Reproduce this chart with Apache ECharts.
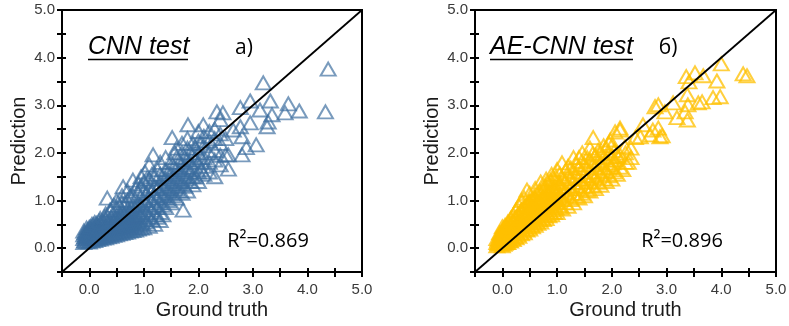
<!DOCTYPE html>
<html><head><meta charset="utf-8">
<script src="https://cdn.jsdelivr.net/npm/echarts@6/dist/echarts.min.js"></script>
<style>html,body{margin:0;padding:0;background:#fff}#c{width:789px;height:326px}</style>
</head><body><div id="c"></div>
<script>
// ---- data ----
const axisRange = [-0.5, 5.0];
const tickStep = 0.5;
const diagLine = [[-0.5, -0.5], [5.0, 5.0]];
const panelTitles = ['CNN test', 'AE-CNN test'];
const panelLetters = ['a)', 'б)'];
const r2Labels = ['R²=0.869', 'R²=0.896'];
const xAxisName = 'Ground truth';
const yAxisName = 'Prediction';

const cnnPoints = [
[-0.1,0.12],[-0.1,0.2],[-0.1,0.28],[-0.1,0.36],
[-0.05,0.14],[-0.05,0.24],[-0.05,0.33],[-0.05,0.42],
[0,0.13],[0,0.2],[0,0.27],[0,0.35],[0,0.44],
[0.05,0.15],[0.05,0.23],[0.05,0.31],[0.05,0.4],[0.05,0.5],
[0.1,0.16],[0.1,0.25],[0.1,0.34],[0.1,0.44],[0.1,0.54],
[0.15,0.18],[0.15,0.27],[0.15,0.37],[0.15,0.48],
[0.2,0.19],[0.2,0.29],[0.2,0.4],[0.2,0.52],[0.2,0.62],
[0.25,0.21],[0.25,0.32],[0.25,0.44],[0.25,0.56],
[0.3,0.22],[0.3,0.33],[0.3,0.46],[0.3,0.6],[0.3,0.72],
[0.35,0.24],[0.35,0.36],[0.35,0.5],
[0.4,0.25],[0.4,0.37],[0.4,0.5],[0.4,0.64],[0.4,0.8],
[0.45,0.27],[0.45,0.4],[0.45,0.55],
[0.5,0.28],[0.5,0.4],[0.5,0.53],[0.5,0.68],[0.5,0.85],
[0.55,0.3],[0.55,0.44],[0.55,0.6],
[0.6,0.31],[0.6,0.45],[0.6,0.6],[0.6,0.76],[0.6,0.95],
[0.65,0.33],[0.65,0.48],
[0.7,0.34],[0.7,0.48],[0.7,0.65],[0.7,0.82],[0.7,1.0],[0.7,1.2],
[0.75,0.36],[0.75,0.52],
[0.8,0.37],[0.8,0.52],[0.8,0.7],[0.8,0.9],[0.8,1.1],[0.8,1.43],
[0.85,0.38],[0.85,0.55],
[0.9,0.4],[0.9,0.57],[0.9,0.75],[0.9,0.95],[0.9,1.15],[0.9,1.35],
[0.95,0.42],[0.95,1.5],
[1.0,0.43],[1.0,0.6],[1.0,0.8],[1.0,1.0],[1.0,1.2],[1.0,1.4],[1.02,1.6],
[1.1,0.46],[1.1,0.65],[1.1,0.85],[1.1,1.05],[1.1,1.25],[1.1,1.45],[1.1,1.75],
[1.17,1.96],
[1.2,0.5],[1.2,0.7],[1.2,0.9],[1.2,1.1],[1.2,1.3],[1.2,1.5],
[1.3,0.58],[1.3,0.75],[1.3,0.95],[1.3,1.15],[1.3,1.35],[1.3,1.55],[1.3,1.8],
[0.33,1.05],[0.38,0.8],[0.62,1.29],[0.5,1.0],
[1.4,0.85],[1.4,1.05],[1.4,1.25],[1.4,1.45],[1.4,1.65],[1.4,1.9],
[1.5,0.95],[1.5,1.15],[1.5,1.35],[1.5,1.55],[1.5,1.8],[1.52,2.32],
[1.57,2.0],
[1.6,1.05],[1.6,1.25],[1.6,1.45],[1.6,1.65],[1.6,1.9],[1.6,2.1],
[1.7,1.15],[1.7,1.35],[1.7,1.55],[1.7,1.75],[1.7,2.0],[1.7,2.2],[1.72,0.8],
[1.8,1.2],[1.8,1.45],[1.8,1.65],[1.8,1.85],[1.8,2.1],[1.8,2.3],[1.81,2.59],
[1.9,1.33],[1.9,1.5],[1.9,1.7],[1.9,1.95],[1.9,2.2],
[2.0,1.4],[2.0,1.6],[2.0,1.8],[2.0,2.0],[2.0,2.25],[2.0,2.45],
[2.09,2.59],[2.1,1.55],[2.1,1.72],[2.1,1.9],[2.1,2.15],[2.1,2.35],
[2.2,1.6],[2.2,1.8],[2.2,2.0],[2.2,2.25],[2.2,2.45],
[2.3,1.5],[2.3,1.85],[2.3,2.05],[2.3,2.3],[2.3,2.5],
[2.4,1.75],[2.4,1.95],[2.4,2.2],[2.4,2.4],[2.4,2.7],
[2.5,1.96],[2.5,2.3],[2.55,1.66],[2.55,1.96],
[2.34,2.86],[2.45,2.84],[2.64,2.48],[2.77,2.55],[2.8,2.34],[2.77,2.95],
[2.95,3.09],[2.95,2.63],[2.8,1.96],[2.88,2.11],[3.06,2.17],
[3.13,2.9],[3.19,3.47],[3.26,2.55],[3.28,2.65],[3.32,3.09],[3.35,2.8],
[3.59,2.84],[3.65,3.03],[3.85,2.88],[4.33,2.86],[4.38,3.76]
];
const cnnDensePoints = [
[-0.08,0.16],[-0.08,0.24],[-0.08,0.32],[-0.02,0.17],[-0.02,0.24],[-0.02,0.31],[-0.02,0.39],
[0.03,0.19],[0.03,0.27],[0.03,0.36],[0.03,0.45],[0.08,0.2],[0.08,0.29],[0.08,0.39],[0.08,0.49],
[0.13,0.22],[0.13,0.32],[0.13,0.42],[0.13,0.52],[0.18,0.23],[0.18,0.34],[0.18,0.45],[0.18,0.57],
[0.23,0.26],[0.23,0.38],[0.23,0.5],[0.28,0.27],[0.28,0.4],[0.28,0.53],[0.28,0.66],
[0.33,0.29],[0.33,0.42],[0.33,0.56],[0.38,0.31],[0.38,0.44],[0.38,0.58],
[0.43,0.32],[0.43,0.46],[0.43,0.6],[0.48,0.34],[0.48,0.47],[0.48,0.62],
[0.53,0.35],[0.53,0.5],[0.53,0.66],[0.58,0.37],[0.58,0.52],[0.58,0.7],
[0.63,0.39],[0.63,0.55],[0.63,0.72],[0.68,0.41],[0.68,0.58],[0.68,0.75],
[0.73,0.42],[0.73,0.6],[0.73,0.78],[0.78,0.44],[0.78,0.62],[0.78,0.82],
[0.83,0.46],[0.83,0.65],[0.83,0.85],[0.88,0.48],[0.88,0.67],[0.88,0.88],
[0.93,0.5],[0.93,0.7],[0.93,0.9],[0.98,0.52],[0.98,0.72],[0.98,0.92],
[1.05,0.55],[1.05,0.75],[1.05,0.95],[1.05,1.15],[1.15,0.6],[1.15,0.8],[1.15,1.0],[1.15,1.2],
[1.25,0.65],[1.25,0.85],[1.25,1.05],[1.25,1.25],[1.35,0.7],[1.35,0.9],[1.35,1.1],[1.35,1.3],[1.35,1.5],
[1.45,1.0],[1.45,1.2],[1.45,1.4],[1.45,1.6],[1.55,1.1],[1.55,1.3],[1.55,1.5],[1.55,1.7],
[1.65,1.2],[1.65,1.4],[1.65,1.6],[1.65,1.8],[1.75,1.3],[1.75,1.5],[1.75,1.7],[1.75,1.9],
[1.85,1.4],[1.85,1.6],[1.85,1.8],[1.85,2.0],[1.95,1.5],[1.95,1.85],[1.95,2.1],[2.05,1.65],[2.05,1.9],[2.05,2.2],
[0.55,0.9],[0.65,0.95],[0.75,1.1],[0.85,1.25],[0.95,1.3],[1.05,1.45],[1.15,1.55],[1.25,1.65],[0.45,0.9],[0.6,1.1]
];

const aeCnnPoints = [
[-0.1,0.05],[-0.1,0.12],[-0.1,0.2],
[-0.05,0.08],[-0.05,0.15],[-0.05,0.25],[-0.05,0.32],
[0,0.05],[0,0.12],[0,0.2],[0,0.28],[0,0.36],[0,0.45],
[0.05,0.1],[0.05,0.18],[0.05,0.27],[0.05,0.36],[0.05,0.48],
[0.1,0.12],[0.1,0.2],[0.1,0.3],[0.1,0.42],[0.1,0.55],
[0.15,0.15],[0.15,0.25],[0.15,0.35],[0.15,0.48],[0.15,0.62],
[0.2,0.18],[0.2,0.3],[0.2,0.42],[0.2,0.55],[0.2,0.7],
[0.25,0.22],[0.25,0.35],[0.25,0.5],[0.25,0.65],[0.25,0.8],
[0.3,0.25],[0.3,0.4],[0.3,0.55],[0.3,0.72],[0.3,0.9],
[0.35,0.3],[0.35,0.45],[0.35,0.62],[0.35,0.8],[0.35,1.0],
[0.4,0.32],[0.4,0.5],[0.4,0.68],[0.4,0.85],[0.4,1.05],
[0.45,0.38],[0.45,0.55],[0.45,0.72],[0.45,0.92],[0.45,1.22],
[0.5,0.4],[0.5,0.58],[0.5,0.78],[0.5,0.98],[0.5,1.15],
[0.55,0.45],[0.55,0.65],[0.55,0.88],
[0.6,0.48],[0.6,0.65],[0.6,0.85],[0.6,1.05],[0.6,1.25],
[0.65,0.52],[0.65,0.75],[0.65,0.98],
[0.7,0.55],[0.7,0.72],[0.7,0.92],[0.7,1.12],[0.7,1.39],
[0.75,0.6],[0.75,0.82],[0.75,1.05],
[0.8,0.62],[0.8,0.8],[0.8,1.0],[0.8,1.2],[0.8,1.45],
[0.85,0.68],[0.85,0.9],[0.85,1.12],
[0.9,0.7],[0.9,0.88],[0.9,1.08],[0.9,1.3],[0.9,1.55],
[0.95,0.75],[0.95,0.98],[0.95,1.2],
[1.0,0.75],[1.0,0.95],[1.0,1.15],[1.0,1.38],[1.0,1.65],
[1.05,0.85],[1.05,1.05],[1.05,1.28],
[1.1,0.82],[1.1,1.02],[1.1,1.22],[1.1,1.45],[1.09,1.79],
[1.2,0.88],[1.2,1.1],[1.2,1.3],[1.2,1.5],[1.2,1.72],
[1.3,0.95],[1.3,1.15],[1.3,1.38],[1.3,1.6],[1.3,1.9],
[1.4,1.05],[1.4,1.25],[1.4,1.45],[1.4,1.68],[1.4,1.9],
[1.46,2.0],
[1.5,1.1],[1.5,1.3],[1.5,1.52],[1.5,1.75],
[1.6,1.2],[1.6,1.4],[1.6,1.6],[1.6,1.85],[1.6,2.1],
[1.66,2.32],
[1.7,1.25],[1.7,1.48],[1.7,1.7],[1.7,1.95],
[1.8,1.32],[1.8,1.55],[1.8,1.78],[1.8,2.0],
[1.9,1.4],[1.9,1.62],[1.9,1.85],[1.9,2.1],[1.97,2.27],
[2.0,1.45],[2.0,1.7],[2.0,1.92],[2.0,2.15],
[2.02,1.79],[2.06,2.44],[2.11,1.92],[2.15,2.48],[2.15,2.52],
[2.1,1.55],[2.2,1.65],[2.24,2.13],[2.3,1.8],
[2.43,2.32],[2.52,2.34],[2.57,2.59],[2.7,2.38],[2.75,2.48],
[2.79,2.97],[2.85,3.01],[2.85,2.52],[2.88,2.34],[2.92,2.36],[2.97,2.86],
[3.12,3.05],[3.19,2.74],[3.34,2.86],[3.38,2.69],[3.38,3.22],[3.39,3.01],
[3.36,3.6],[3.41,3.49],[3.52,3.68],[3.58,3.05],[3.65,3.07],[3.67,3.62],
[3.85,3.16],[3.92,3.51],[3.98,3.18],[4.0,3.87],[4.4,3.66],[4.47,3.62]
];
const aeCnnDensePoints = [
[-0.08,0.1],[-0.08,0.17],[-0.03,0.1],[-0.03,0.2],[-0.03,0.3],
[0.03,0.08],[0.03,0.16],[0.03,0.24],[0.03,0.33],[0.03,0.42],
[0.08,0.12],[0.08,0.22],[0.08,0.32],[0.08,0.44],
[0.13,0.16],[0.13,0.27],[0.13,0.38],[0.13,0.5],
[0.18,0.2],[0.18,0.32],[0.18,0.45],[0.18,0.58],
[0.23,0.24],[0.23,0.37],[0.23,0.5],[0.23,0.63],
[0.28,0.28],[0.28,0.42],[0.28,0.56],[0.28,0.7],
[0.33,0.32],[0.33,0.47],[0.33,0.62],[0.33,0.77],
[0.38,0.36],[0.38,0.52],[0.38,0.68],[0.38,0.84],
[0.43,0.4],[0.43,0.57],[0.43,0.74],[0.43,0.9],
[0.48,0.44],[0.48,0.62],[0.48,0.8],[0.48,0.96],
[0.53,0.48],[0.53,0.67],[0.53,0.86],[0.53,1.02],
[0.58,0.52],[0.58,0.72],[0.58,0.92],[0.58,1.08],
[0.63,0.56],[0.63,0.76],[0.63,0.96],[0.63,1.14],
[0.68,0.6],[0.68,0.8],[0.68,1.0],[0.68,1.2],
[0.73,0.64],[0.73,0.85],[0.73,1.05],[0.73,1.25],
[0.78,0.68],[0.78,0.9],[0.78,1.1],[0.78,1.3],
[0.83,0.72],[0.83,0.94],[0.83,1.15],[0.83,1.36],
[0.88,0.76],[0.88,0.98],[0.88,1.2],[0.88,1.42],
[0.93,0.8],[0.93,1.02],[0.93,1.25],[0.93,1.46],
[0.98,0.84],[0.98,1.06],[0.98,1.28],[0.98,1.5],
[1.05,0.9],[1.05,1.12],[1.05,1.35],[1.05,1.56],
[1.15,0.95],[1.15,1.18],[1.15,1.4],[1.15,1.62],
[1.25,1.02],[1.25,1.25],[1.25,1.46],[1.25,1.68],
[1.35,1.08],[1.35,1.3],[1.35,1.52],[1.35,1.75],
[1.45,1.15],[1.45,1.38],[1.45,1.6],[1.45,1.82],
[1.55,1.22],[1.55,1.45],[1.55,1.68],[1.55,1.9],
[1.65,1.3],[1.65,1.52],[1.65,1.75],[1.65,1.98],
[1.75,1.38],[1.75,1.6],[1.75,1.82],[1.75,2.05],
[1.85,1.45],[1.85,1.68],[1.85,1.9],[1.85,2.15],
[1.95,1.52],[1.95,1.75],[1.95,1.98],[1.95,2.2],
[2.05,1.6],[2.05,1.85],[2.05,2.05],[2.15,1.7],[2.15,1.95],[2.25,1.8],[2.25,2.0],[2.35,1.9],[2.35,2.1]
];

// ---- chart ----
const FONT = '"Liberation Sans", Arial, sans-serif';
const grids = [
  {left: 62, top: 10, width: 300, height: 262},
  {left: 475, top: 10, width: 301, height: 262}
];
function labelFmt(v){ return Math.abs(v - Math.round(v)) < 1e-6 && v >= 0 ? v.toFixed(1) : ''; }

const xAxes = [], yAxes = [];
grids.forEach((g, i) => {
  const base = {type: 'value', gridIndex: i, min: axisRange[0], max: axisRange[1], interval: tickStep, splitLine: {show: false}};
  xAxes.push(Object.assign({}, base, {
    position: 'bottom', offset: -4, name: xAxisName, nameLocation: 'middle', nameGap: 32, nameMoveOverlap: false,
    nameTextStyle: {fontFamily: FONT, fontSize: 20, color: '#1a1a1a', verticalAlign: 'top'},
    axisLine: {show: true, onZero: false, lineStyle: {color: 'rgba(0,0,0,0)', width: 1}},
    axisTick: {show: true, inside: false, length: 9, lineStyle: {color: '#000', width: 2}},
    axisLabel: {show: true, formatter: labelFmt, margin: 14, fontFamily: FONT, fontSize: 15, color: '#3a3a3a', showMinLabel: true, showMaxLabel: true}
  }));
  yAxes.push(Object.assign({}, base, {
    position: 'left', offset: -4, name: yAxisName, nameLocation: 'middle', nameGap: 37, nameMoveOverlap: false,
    nameTextStyle: {fontFamily: FONT, fontSize: 20, color: '#1a1a1a'},
    axisLine: {show: true, onZero: false, lineStyle: {color: 'rgba(0,0,0,0)', width: 1}},
    axisTick: {show: true, inside: false, length: 9, lineStyle: {color: '#000', width: 2}},
    axisLabel: {show: true, formatter: labelFmt, margin: 11, fontFamily: FONT, fontSize: 15, color: '#3a3a3a', showMinLabel: true, showMaxLabel: true}
  }));
});

const colors = ['rgba(58,108,158,0.85)', 'rgba(255,192,0,0.95)'];
const datasets = [cnnPoints.concat(cnnDensePoints), aeCnnPoints.concat(aeCnnDensePoints)];
const series = [];
datasets.forEach((d, i) => {
  series.push({
    type: 'scatter', xAxisIndex: i, yAxisIndex: i, data: d,
    symbol: 'triangle', symbolSize: [15, 13],
    itemStyle: {color: 'rgba(0,0,0,0)', borderColor: colors[i], borderWidth: 2},
    silent: true, z: 2
  });
  series.push({
    type: 'line', xAxisIndex: i, yAxisIndex: i, data: diagLine,
    symbol: 'none', lineStyle: {color: '#000', width: 1.8}, silent: true, z: 5
  });
});

const titleX = [88, 490], titleW = [100, 143];
const letterX = [244, 668];
const r2X = [268, 682];
const graphic = [];
[0, 1].forEach(i => {
  graphic.push({type: 'text', left: titleX[i], top: 35, style: {text: panelTitles[i], font: 'italic 25px ' + FONT, fill: '#000'}});
  graphic.push({type: 'line', shape: {x1: titleX[i], y1: 59.5, x2: titleX[i] + titleW[i], y2: 59.5}, style: {stroke: '#000', lineWidth: 1.5}});
  graphic.push({type: 'text', x: letterX[i], y: 48, style: {text: panelLetters[i], font: '21px "Open Sans", sans-serif', fill: '#000', align: 'center', verticalAlign: 'middle'}});
  graphic.push({type: 'text', x: r2X[i], y: 241, style: {text: r2Labels[i], font: '20px "Open Sans", sans-serif', fill: '#000', align: 'center', verticalAlign: 'middle'}});
});

const chart = echarts.init(document.getElementById('c'), null, {renderer: 'canvas'});
chart.setOption({
  animation: false,
  backgroundColor: '#fff',
  grid: grids.map(g => Object.assign({show: true, borderColor: '#000', borderWidth: 2, backgroundColor: 'transparent', outerBoundsMode: 'none', containLabel: false}, g)),
  xAxis: xAxes, yAxis: yAxes, series: series, graphic: graphic
});
</script></body></html>
